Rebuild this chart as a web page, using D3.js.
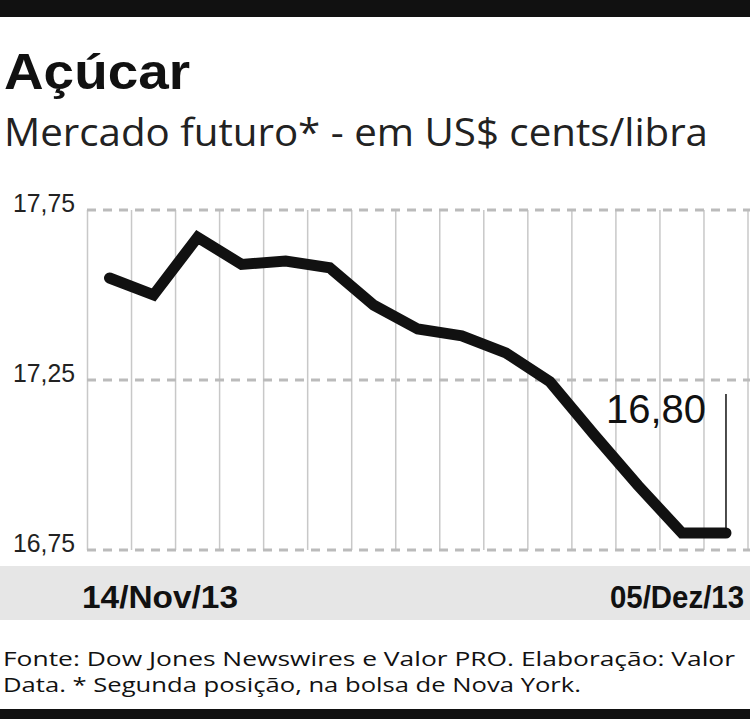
<!DOCTYPE html>
<html><head><meta charset="utf-8">
<script src="https://cdn.jsdelivr.net/npm/d3@7"></script>
<style>body{margin:0;background:#fff}</style>
</head><body><svg id="c" width="750" height="719"></svg>
<script>
const values = [17.55, 17.50, 17.67, 17.59, 17.60, 17.58, 17.47, 17.40, 17.38, 17.33, 17.245, 17.09, 16.94, 16.80, 16.80];
const yTicks = [16.75, 17.25, 17.75];
const dateLabels = ['14/Nov/13', '05/Dez/13'];

const narrow = '"Liberation Sans", sans-serif';
const svg = d3.select('#c');

// frame bars
svg.append('rect').attr('x', 0).attr('y', 0).attr('width', 750).attr('height', 17).attr('fill', '#111');
svg.append('rect').attr('x', 0).attr('y', 709).attr('width', 750).attr('height', 10).attr('fill', '#111');

svg.append('text').attr('x', 4).attr('y', 89).text('Açúcar')
	.attr('font-family', narrow).attr('font-weight', 'bold').attr('font-size', 50).attr('fill', '#111')
	.attr('textLength', 186).attr('lengthAdjust', 'spacingAndGlyphs');
svg.append('text').attr('x', 4).attr('y', 146).text('Mercado futuro* - em US$ cents/libra')
	.attr('font-family', '"Open Sans", sans-serif').attr('font-size', 38).attr('fill', '#222')
	.attr('textLength', 704).attr('lengthAdjust', 'spacingAndGlyphs');

const x = d3.scaleBand().domain(d3.range(values.length)).range([87.5, 748]);
const y = d3.scaleLinear().domain([16.75, 17.75]).range([550, 210]);

// vertical grid
svg.append('g').selectAll('line').data(d3.range(values.length + 1)).join('line')
	.attr('x1', i => 87.5 + i * x.bandwidth()).attr('x2', i => 87.5 + i * x.bandwidth())
	.attr('y1', 210).attr('y2', 550).attr('stroke', '#c8c8c8').attr('stroke-width', 1.5);

// horizontal dashed grid
svg.append('g').selectAll('line').data(yTicks).join('line')
	.attr('x1', 87).attr('x2', 750).attr('y1', d => y(d)).attr('y2', d => y(d))
	.attr('stroke', '#bbb').attr('stroke-width', 3).attr('stroke-dasharray', '9,7');

svg.append('g').selectAll('text').data(yTicks).join('text')
	.attr('x', 75).attr('y', d => y(d) + 2).attr('text-anchor', 'end')
	.attr('font-family', narrow).attr('font-size', 25).attr('fill', '#222')
	.attr('textLength', 62).attr('lengthAdjust', 'spacingAndGlyphs')
	.text(d => d3.format('.2f')(d).replace('.', ','));

// gray date band
svg.append('rect').attr('x', 0).attr('y', 566).attr('width', 750).attr('height', 54).attr('fill', '#e6e6e6');
svg.append('text').attr('x', 82).attr('y', 608).text(dateLabels[0])
	.attr('font-family', narrow).attr('font-weight', 'bold').attr('font-size', 32).attr('fill', '#111')
	.attr('textLength', 156).attr('lengthAdjust', 'spacingAndGlyphs');
svg.append('text').attr('x', 744).attr('y', 608).attr('text-anchor', 'end').text(dateLabels[1])
	.attr('font-family', narrow).attr('font-weight', 'bold').attr('font-size', 32).attr('fill', '#111')
	.attr('textLength', 134).attr('lengthAdjust', 'spacingAndGlyphs');

const cx = i => x(i) + x.bandwidth() / 2;
svg.append('path').datum(values)
	.attr('d', d3.line().x((d, i) => cx(i)).y(d => y(d)))
	.attr('fill', 'none').attr('stroke', '#111').attr('stroke-width', 11)
	.attr('stroke-linejoin', 'miter').attr('stroke-linecap', 'round');

// annotation
const last = values.length - 1;
svg.append('line').attr('x1', cx(last)).attr('x2', cx(last)).attr('y1', 394).attr('y2', y(values[last]))
	.attr('stroke', '#111').attr('stroke-width', 1.5);
svg.append('text').attr('x', cx(last) - 20).attr('y', 423).attr('text-anchor', 'end')
	.attr('font-family', narrow).attr('font-size', 40).attr('fill', '#111')
	.attr('textLength', 100).attr('lengthAdjust', 'spacingAndGlyphs')
	.text(d3.format('.2f')(values[last]).replace('.', ','));

// source
const foot = svg.append('text').attr('font-family', '"Open Sans", sans-serif').attr('font-size', 20).attr('fill', '#111');
foot.append('tspan').attr('x', 3).attr('y', 666).attr('textLength', 732).attr('lengthAdjust', 'spacingAndGlyphs')
	.text('Fonte: Dow Jones Newswires e Valor PRO. Elaboração: Valor');
foot.append('tspan').attr('x', 3).attr('y', 692).attr('textLength', 578).attr('lengthAdjust', 'spacingAndGlyphs')
	.text('Data. * Segunda posição, na bolsa de Nova York.');
</script>
</body></html>
